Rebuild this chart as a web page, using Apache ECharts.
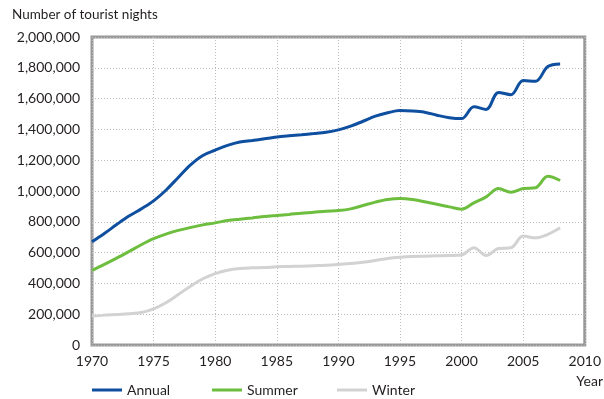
<!DOCTYPE html>
<html>
<head>
<meta charset="utf-8">
<script src="https://cdn.jsdelivr.net/npm/echarts@6/dist/echarts.min.js"></script>
<style>
  html, body { margin: 0; padding: 0; background: #fff; }
  #chart { width: 604px; height: 399px; }
</style>
</head>
<body>
<div id="chart"></div>
<script>
// Tourist nights per year, 1970–2008
const years = [1970,1971,1972,1973,1974,1975,1976,1977,1978,1979,
               1980,1981,1982,1983,1984,1985,1986,1987,1988,1989,
               1990,1991,1992,1993,1994,1995,1996,1997,1998,1999,
               2000,2001,2002,2003,2004,2005,2006,2007,2008];

const annual = [670000,724000,782000,837000,884000,936000,1005000,1088000,1170000,1231000,
                1265000,1296000,1318000,1328000,1339000,1350000,1358000,1365000,1373000,1382000,
                1397000,1421000,1453000,1486000,1508000,1522000,1520000,1512000,1492000,1476000,
                1470000,1547000,1530000,1640000,1625000,1718000,1712000,1808000,1825000];

const summer = [484000,523000,564000,607000,651000,690000,720000,744000,763000,780000,
                793000,808000,817000,825000,834000,841000,848000,856000,862000,869000,
                873000,884000,906000,928000,945000,951000,945000,930000,914000,897000,
                882000,923000,962000,1016000,992000,1016000,1021000,1096000,1068000];

const winter = [187000,194000,198000,203000,211000,235000,274000,328000,382000,430000,
                464000,486000,497000,501000,503000,508000,510000,512000,515000,518000,
                523000,529000,538000,549000,562000,570000,575000,577000,579000,581000,
                585000,631000,581000,627000,631000,707000,696000,718000,761000];

const yTicks = [0, 200000, 400000, 600000, 800000, 1000000, 1200000, 1400000, 1600000, 1800000, 2000000];

const seriesNames = ['Annual', 'Summer', 'Winter'];
const seriesColors = ['#0f4fa0', '#6dbe3e', '#d2d2d2'];
const seriesData = [annual, summer, winter];

const FONT = 'Lato, "Open Sans", sans-serif';
const FS = 14;
const textColor = '#231f20';

const chart = echarts.init(document.getElementById('chart'), null, { renderer: 'canvas' });

function fmt(v) {
  return v.toLocaleString('en-US');
}

const legendX = [92, 212, 337];

chart.setOption({
  animation: false,
  backgroundColor: '#ffffff',
  title: {
    text: 'Number of tourist nights',
    left: 12,
    top: 8,
    padding: 0,
    textStyle: { fontFamily: FONT, fontSize: 13.5, fontWeight: 'normal', color: textColor }
  },
  graphic: [{
    type: 'text',
    right: 1,
    top: 374,
    style: { text: 'Year', font: FS + 'px ' + FONT, fill: textColor }
  }],
  legend: seriesNames.map((name, i) => ({
    data: [name],
    left: legendX[i],
    top: 383,
    padding: 0,
    icon: 'rect',
    itemWidth: 30,
    itemHeight: 3,
    itemGap: 5,
    textStyle: { fontFamily: FONT, fontSize: FS, color: textColor, padding: [0, 0, 0, 0] }
  })),
  grid: {
    left: 92,
    right: 16,
    top: 37,
    bottom: 54,
    show: true,
    borderColor: '#98989a',
    borderWidth: 3,
    backgroundColor: 'transparent'
  },
  xAxis: {
    type: 'value',
    min: 1970,
    max: 2010,
    interval: 5,
    axisLine: { show: false },
    axisTick: { show: false },
    axisLabel: {
      fontFamily: FONT, fontSize: FS, color: textColor, margin: 9,
      formatter: v => String(v)
    },
    splitLine: { show: true, lineStyle: { color: '#bdbdbd', type: [1, 2], width: 1 } }
  },
  yAxis: {
    type: 'value',
    min: yTicks[0],
    max: yTicks[yTicks.length - 1],
    interval: yTicks[1] - yTicks[0],
    axisLine: { show: false },
    axisTick: { show: false },
    axisLabel: {
      fontFamily: FONT, fontSize: FS, color: textColor, margin: 12,
      formatter: v => fmt(v)
    },
    splitLine: { show: true, lineStyle: { color: '#bdbdbd', type: [1, 2], width: 1 } }
  },
  series: seriesNames.map((name, i) => ({
    name: name,
    type: 'line',
    data: years.map((y, k) => [y, seriesData[i][k]]),
    showSymbol: false,
    symbol: 'none',
    smooth: 0.35,
    lineStyle: { color: seriesColors[i], width: 3 },
    itemStyle: { color: seriesColors[i] },
    z: 10 - i
  }))
});
</script>
</body>
</html>
